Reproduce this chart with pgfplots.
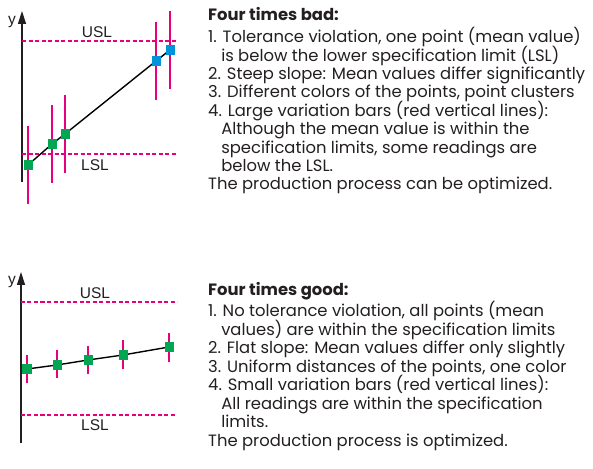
\documentclass[border=0pt]{standalone}
\usepackage{fontspec}
\setmainfont{Poppins}
\newfontfamily\labfont{Liberation Sans}
\usepackage{pgfplots}
\pgfplotsset{compat=1.18}
\usetikzlibrary{arrows.meta}
\definecolor{specmag}{HTML}{E6007E}
\definecolor{ptgreen}{HTML}{00A651}
\definecolor{ptblue}{HTML}{0094D8}
\definecolor{txtgray}{HTML}{231F20}

\pgfplotsset{
  limchart/.style={
    x=1pt, y=1pt, xmin=0, xmax=160, ymin=0, ymax=171,
    axis x line=none, axis y line=left,
    y axis line style={line width=1.3pt, draw=txtgray, -{Triangle[width=8pt,length=13pt]}},
    ytick=\empty, xtick=\empty, clip=false,
  },
  specline/.style={specmag, line width=1.4pt, dash pattern=on 4pt off 2.5pt, mark=none},
  varbars/.style={specmag, only marks, mark=none,
    error bars/.cd, y dir=both, y explicit, error mark=none,
    error bar style={line width=1.6pt, specmag}},
  meanline/.style={black, line width=1.4pt, mark=none},
  pts/.style={only marks, mark=square*, mark size=4.3pt, mark options={draw=#1, fill=#1}},
}
\newcommand\txt{\fontsize{16.4}{18.4}\selectfont\color{txtgray}}
\newcommand\lab{\labfont\fontsize{15.5}{17}\selectfont\color{txtgray}}
\newcommand\ind{\hphantom{1.\ }}

\begin{document}
\begin{tikzpicture}
\useasboundingbox (0,0) rectangle (593pt,468pt);

% --- bad process ---
\begin{axis}[limchart, at={(22pt,286pt)}, anchor=south west]
\addplot[varbars] table[y error=e] {
x y e
6 17 39
30 38 39
43 48 39
134 121 39
148 132 39
};
\addplot[specline] coordinates {(0,141) (155,141)};
\addplot[specline] coordinates {(0,28) (155,28)};
\addplot[meanline] coordinates {(6,17) (30,38) (43,48) (134,121) (148,132)};
\addplot[pts=ptgreen] coordinates {(6,17) (30,38) (43,48)};
\addplot[pts=ptblue] coordinates {(134,121) (148,132)};
\node[font=\lab] at (axis cs:-10,160) {y};
\node[font=\lab] at (axis cs:75,150) {USL};
\node[font=\lab] at (axis cs:73,17) {LSL};
\end{axis}

% --- good process ---
\begin{axis}[limchart, at={(21pt,25pt)}, anchor=south west]
\addplot[varbars] table[y error=e] {
x y e
6 74 14
36 79 14
67 83 14
102 88.5 14.5
148 95.5 14.5
};
\addplot[specline] coordinates {(0,141) (156,141)};
\addplot[specline] coordinates {(0,28) (154,28)};
\addplot[meanline] coordinates {(6,74) (36,78) (67,83) (102,88) (148,96)};
\addplot[pts=ptgreen] coordinates {(6,74) (36,78) (67,83) (102,88) (148,96)};
\node[font=\lab] at (axis cs:-9,161) {y};
\node[font=\lab] at (axis cs:74,150) {USL};
\node[font=\lab] at (axis cs:74,18) {LSL};
\end{axis}

% --- text blocks ---
\begin{scope}[every node/.style={anchor=base west, inner sep=0pt, font=\txt}]
\node at (208pt,447.3pt) {\bfseries Four times bad:};
\node at (208pt,425.3pt) {1. Tolerance violation, one point (mean value)};
\node at (208pt,406.9pt) {\ind is below the lower specification limit (LSL)};
\node at (208pt,388.5pt) {2. Steep slope: Mean values differ significantly};
\node at (208pt,370.1pt) {3. Different colors of the points, point clusters};
\node at (208pt,351.7pt) {4. Large variation bars (red vertical lines):};
\node at (208pt,333.3pt) {\ind Although the mean value is within the};
\node at (208pt,314.9pt) {\ind specification limits, some readings are};
\node at (208pt,296.5pt) {\ind below the LSL.};
\node at (208pt,278.1pt) {The production process can be optimized.};

\node at (208pt,172pt) {\bfseries Four times good:};
\node at (208pt,151pt) {1. No tolerance violation, all points (mean};
\node at (208pt,132.6pt) {\ind values) are within the specification limits};
\node at (208pt,114.2pt) {2. Flat slope: Mean values differ only slightly};
\node at (208pt,95.8pt) {3. Uniform distances of the points, one color};
\node at (208pt,77.4pt) {4. Small variation bars (red vertical lines):};
\node at (208pt,59pt) {\ind All readings are within the specification};
\node at (208pt,40.6pt) {\ind limits.};
\node at (208pt,22pt) {The production process is optimized.};
\end{scope}
\end{tikzpicture}
\end{document}
